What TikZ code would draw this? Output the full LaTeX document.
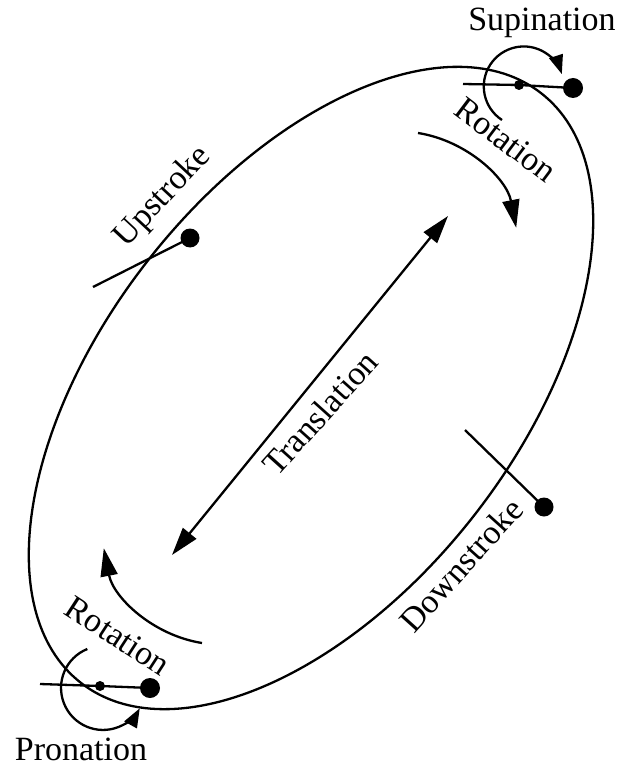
\documentclass[tikz,border=0pt]{standalone}
\usepackage{fontspec}
\setmainfont{Liberation Serif}
\usetikzlibrary{arrows.meta}
\begin{document}
\begin{tikzpicture}[x=1pt,y=1pt, line width=2.3pt,
  lbl/.style={inner sep=0pt, font=\fontsize{34}{40}\selectfont},
  bigtip/.style={-{Triangle[length=28pt,width=17pt]}},
  smalltip/.style={-{Triangle[length=19pt,width=14pt]}},
  bigdot/.style={circle, fill=black, inner sep=0pt, minimum size=20pt},
  smalldot/.style={circle, fill=black, inner sep=0pt, minimum size=10pt}]
\useasboundingbox (0,0) rectangle (619,-767);
% loop
\coordinate (C) at (311,-388);
\draw[rotate around={52:(C)}] (C) ellipse [x radius=374pt, y radius=207pt];
% translation
\coordinate (T1) at (172,-555);
\coordinate (T2) at (448,-216);
\draw[{Triangle[length=28pt,width=17pt]}-{Triangle[length=28pt,width=17pt]}] (T1) -- (T2);
% rotation arcs
\coordinate (R1) at (418,-133);
\draw[bigtip] (R1) arc[start angle=81, end angle=11, radius=119pt];
\coordinate (R2) at (202,-643);
\draw[bigtip] (R2) arc[start angle=261, end angle=191, radius=119pt];
% supination
\coordinate (SE) at (463,-84);
\node[smalldot] (SJ) at (519,-85) {};
\node[bigdot] (SD) at (573,-88) {};
\draw (SE) -- (SJ.center) -- (SD.center);
\coordinate (SA) at (502,-120);
\draw[smalltip] (SA) arc[start angle=237, end angle=18, radius=40pt];
% pronation
\coordinate (PE) at (40,-684);
\node[smalldot] (PJ) at (100,-686) {};
\node[bigdot] (PD) at (150,-688) {};
\draw (PE) -- (PJ.center) -- (PD.center);
\coordinate (PA) at (87.3,-649);
\draw[smalltip] (PA) arc[start angle=112, end angle=331, radius=42pt];
% upstroke
\coordinate (UE) at (93,-287);
\node[bigdot, minimum size=19pt] (UD) at (190,-238) {};
\draw (UE) -- (UD.center);
% downstroke
\coordinate (DE) at (465,-430);
\node[bigdot, minimum size=19pt] (DD) at (544,-507) {};
\draw (DE) -- (DD.center);
% labels
\node[lbl] (sup) at (542,-23) {Supination};
\node[lbl] (pro) at (81,-749) {Pronation};
\node[lbl, rotate=47] (up) at (163,-197) {Upstroke};
\node[lbl, rotate=-37] (rot1) at (506,-140) {Rotation};
\node[lbl, rotate=48] (tr) at (320,-413) {Translation};
\node[lbl, rotate=48] (down) at (461,-565) {Downstroke};
\node[lbl, rotate=-33] (rot2) at (118,-636) {Rotation};
\end{tikzpicture}
\end{document}
